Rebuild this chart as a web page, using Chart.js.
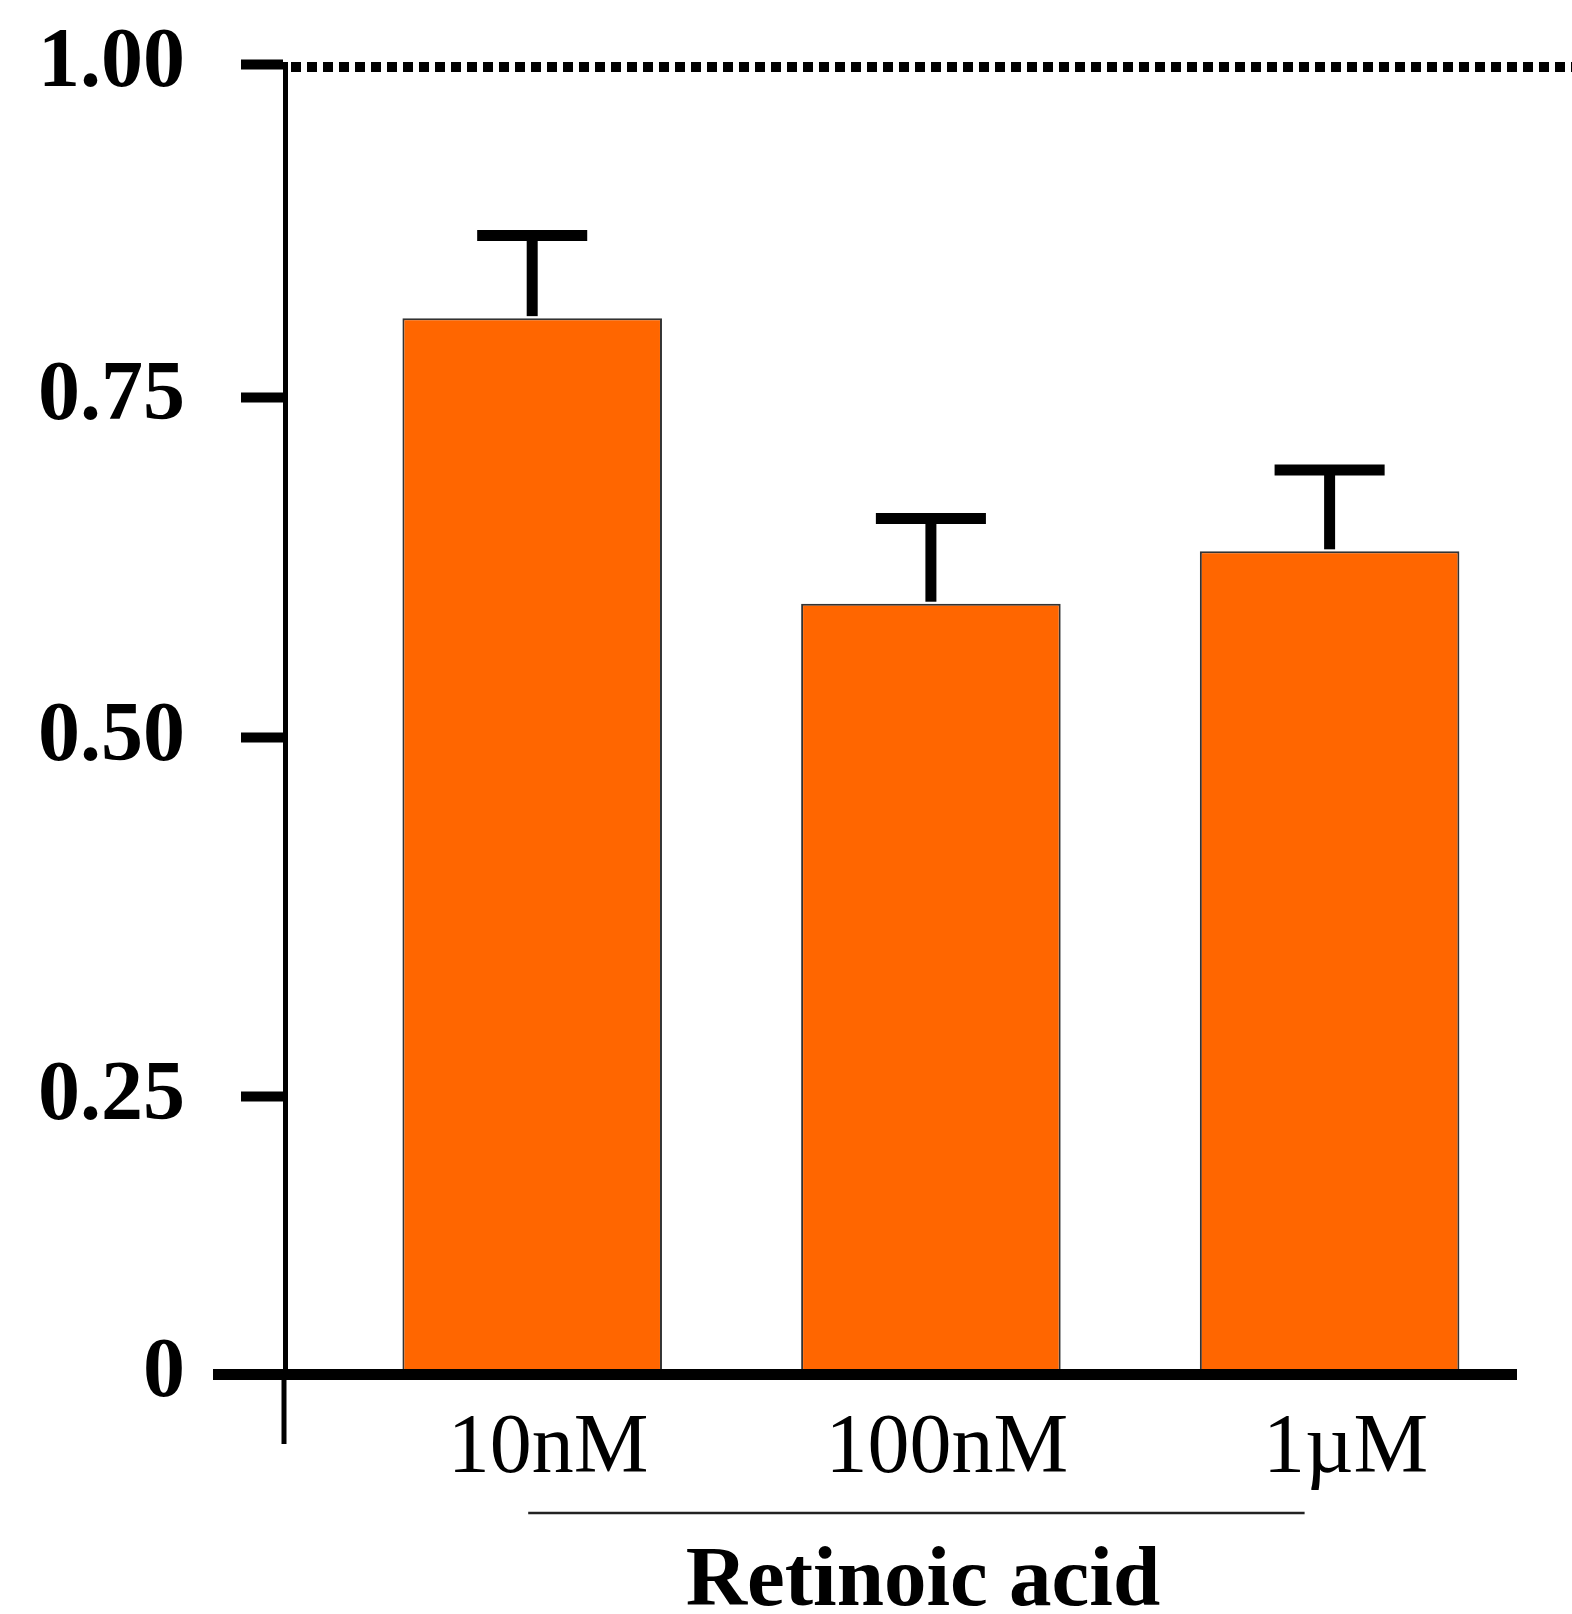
<!DOCTYPE html>
<html>
<head>
<meta charset="utf-8">
<title>Retinoic acid</title>
<script src="https://cdn.jsdelivr.net/npm/chart.js@4.4.1/dist/chart.umd.min.js"></script>
<style>
    body { margin: 0; background: #fff; }
    canvas { display: block; }
</style>
</head>
<body>
<canvas id="canvas-barChart" width="1572" height="1614"></canvas>

<script>

// data
const categories = ['10nM', '100nM', '1\u00B5M'];
const meanValues = [0.806, 0.588, 0.628];
const errorValues = [0.063, 0.065, 0.062];

// y ticks, placed where the figure puts them
const yTickValues = [0, 0.2115, 0.4855, 0.7458, 1.0];
const yTickLabels = ['0', '0.25', '0.50', '0.75', '1.00'];

const referenceLevel = 1.0;
const groupTitle = 'Retinoic acid';

const serif = '"Liberation Serif", "Times New Roman", serif';


// error bars, baseline, dotted line, bracket and group title
const decorPlugin = {
    id: 'decor',
    afterDatasetsDraw(chart) {

        const ctx = chart.ctx;
        const xScale = chart.scales.x;
        const yScale = chart.scales.y;
        const area = chart.chartArea;
        const meta = chart.getDatasetMeta(0);

        ctx.save();
        ctx.strokeStyle = '#000';
        ctx.lineCap = 'butt';

        // error bars (upper only)
        meta.data.forEach((bar, i) => {
            const top = yScale.getPixelForValue(meanValues[i] + errorValues[i]);
            const half = bar.width * 0.212;
            ctx.lineWidth = 11;
            ctx.beginPath();
            ctx.moveTo(bar.x, bar.y - 2);
            ctx.lineTo(bar.x, top);
            ctx.stroke();
            ctx.beginPath();
            ctx.moveTo(bar.x - half, top);
            ctx.lineTo(bar.x + half, top);
            ctx.stroke();
        });

        // thick baseline, runs past the y axis
        const y0 = yScale.getPixelForValue(0) + 0.5;
        ctx.lineWidth = 11;
        ctx.beginPath();
        ctx.moveTo(area.left - 72, y0);
        ctx.lineTo(area.right, y0);
        ctx.stroke();

        // y axis sticks out below the baseline
        ctx.lineWidth = 5;
        ctx.beginPath();
        ctx.moveTo(area.left - 1, area.bottom);
        ctx.lineTo(area.left - 1, area.bottom + 70);
        ctx.stroke();

        // dotted reference line
        const yRef = yScale.getPixelForValue(referenceLevel) + 3;
        ctx.lineWidth = 10;
        ctx.setLineDash([10, 6]);
        ctx.beginPath();
        ctx.moveTo(area.left + 6, yRef);
        ctx.lineTo(chart.width, yRef);
        ctx.stroke();
        ctx.setLineDash([]);

        // bracket under the labels
        ctx.strokeStyle = '#222';
        ctx.lineWidth = 2.5;
        ctx.beginPath();
        ctx.moveTo(xScale.getPixelForValue(1) - 4, area.bottom + 139);
        ctx.lineTo(xScale.getPixelForValue(categories.length) - 25, area.bottom + 139);
        ctx.stroke();

        // group title
        ctx.fillStyle = '#000';
        ctx.font = 'bold 85px ' + serif;
        ctx.textAlign = 'center';
        ctx.textBaseline = 'alphabetic';
        ctx.fillText(groupTitle, xScale.getPixelForValue(2) - 8, area.bottom + 231);

        ctx.restore();
    }
};


const ctx = document.getElementById('canvas-barChart');

new Chart(ctx, {

    type: 'bar',

    data: {
        datasets: [{
            data: meanValues.map((v, i) => ({ x: i + 1, y: v })),
            backgroundColor: '#FF6600',
            borderColor: '#333333',
            borderWidth: 2,
            borderSkipped: 'start',
            categoryPercentage: 1,
            barPercentage: 0.651
        }]
    },

    options: {
        responsive: false,
        animation: false,
        layout: {
            padding: { top: 64, right: 55, left: 0, bottom: 0 }
        },
        plugins: {
            legend: { display: false },
            tooltip: { enabled: false }
        },
        scales: {
            x: {
                type: 'linear',
                position: 'bottom',
                offset: false,
                min: 0.38,
                max: 3.47,
                afterBuildTicks: scale => {
                    scale.ticks = categories.map((c, i) => ({ value: i + 1.04 }));
                },
                afterFit: scale => {
                    scale.height = 240;
                    scale.paddingLeft = 0;
                    scale.paddingRight = 0;
                },
                grid: { display: false, drawTicks: false, offset: false },
                border: { display: false },
                ticks: {
                    autoSkip: false,
                    maxRotation: 0,
                    padding: 26,
                    color: '#000',
                    font: { family: serif, size: 84 },
                    callback: (value, index) => categories[index]
                }
            },
            y: {
                min: 0,
                max: 1,
                afterBuildTicks: scale => {
                    scale.ticks = yTickValues.map(v => ({ value: v }));
                },
                afterFit: scale => {
                    scale.width = 285;
                    scale.paddingTop = 0;
                    scale.paddingBottom = 0;
                },
                grid: {
                    display: true,
                    drawOnChartArea: false,
                    drawTicks: true,
                    tickLength: 44,
                    tickWidth: 10,
                    tickColor: '#000'
                },
                border: { display: true, color: '#000', width: 5 },
                ticks: {
                    padding: 56,
                    color: '#000',
                    font: { family: serif, size: 84, weight: 'bold' },
                    callback: (value, index) => yTickLabels[index]
                }
            }
        }
    },

    plugins: [decorPlugin]

});

</script>
</body>
</html>
